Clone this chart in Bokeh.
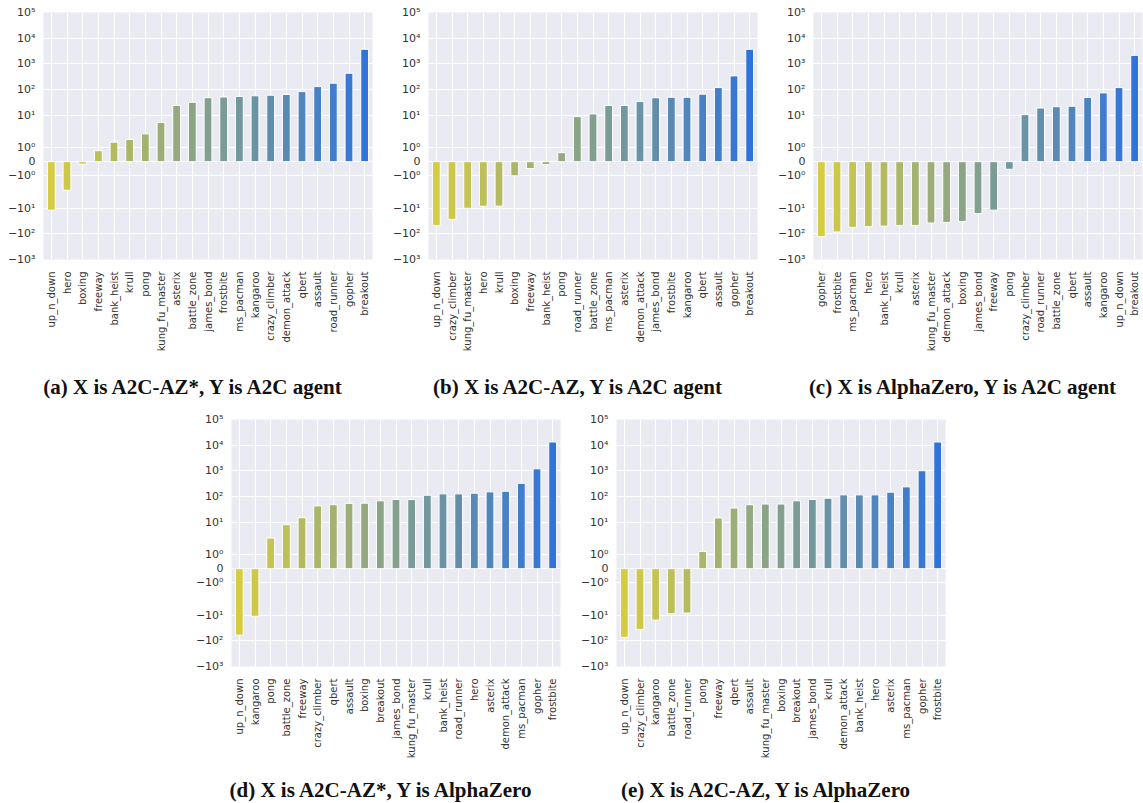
import numpy as np
from bokeh.plotting import figure
from bokeh.models import FactorRange, Range1d, FixedTicker, CustomJSTickFormatter, Div, Spacer
from bokeh.layouts import row, column
from bokeh.embed import file_html
from bokeh.resources import INLINE

# ---------------- data ----------------
cats_a = ["up_n_down", "hero", "boxing", "freeway", "bank_heist", "krull", "pong",
          "kung_fu_master", "asterix", "battle_zone", "james_bond", "frostbite", "ms_pacman",
          "kangaroo", "crazy_climber", "demon_attack", "qbert", "assault", "road_runner",
          "gopher", "breakout"]
vals_a = [-12.0, -2.0, -0.17, 0.77, 1.37, 1.56, 1.95, 5.2, 24, 32, 48, 51, 54, 57, 60, 64,
          83, 130, 176, 430, 3700]

cats_b = ["up_n_down", "crazy_climber", "kung_fu_master", "hero", "krull", "boxing", "freeway",
          "bank_heist", "pong", "road_runner", "battle_zone", "ms_pacman", "asterix",
          "demon_attack", "james_bond", "frostbite", "kangaroo", "qbert", "assault", "gopher",
          "breakout"]
vals_b = [-47, -27.5, -10.1, -8.4, -8.3, -0.99, -0.48, -0.2, 0.63, 8.8, 11.2, 24, 24, 34,
          48, 50, 50, 66, 119, 340, 3700]

cats_c = ["gopher", "frostbite", "ms_pacman", "hero", "bank_heist", "krull", "asterix",
          "kung_fu_master", "demon_attack", "boxing", "james_bond", "freeway", "pong",
          "crazy_climber", "road_runner", "battle_zone", "qbert", "assault", "kangaroo",
          "up_n_down", "breakout"]
vals_c = [-129, -85, -56, -53, -50, -47, -47, -38, -36, -33, -16.2, -12.0, -0.53, 10.5, 19,
          21.4, 22.5, 49, 74, 119, 2140]

cats_d = ["up_n_down", "kangaroo", "pong", "battle_zone", "freeway", "crazy_climber", "qbert",
          "assault", "boxing", "breakout", "james_bond", "kung_fu_master", "krull",
          "bank_heist", "road_runner", "hero", "asterix", "demon_attack", "ms_pacman",
          "gopher", "frostbite"]
vals_d = [-60, -11, 2.4, 8.0, 15, 43, 48, 54, 55, 68, 77, 76, 112, 127, 127, 135, 152, 161,
          327, 1200, 13300]

cats_e = ["up_n_down", "crazy_climber", "kangaroo", "battle_zone", "road_runner", "pong",
          "freeway", "qbert", "assault", "kung_fu_master", "boxing", "breakout", "james_bond",
          "krull", "demon_attack", "bank_heist", "hero", "asterix", "ms_pacman", "gopher",
          "frostbite"]
vals_e = [-73, -36, -15.7, -8.7, -8.3, 1.21, 14.6, 35.5, 48, 51, 51, 68, 77, 86, 116, 116,
          116, 148, 237, 1010, 13300]

captions = ["(a) X is A2C-AZ*, Y is A2C agent",
            "(b) X is A2C-AZ, Y is A2C agent",
            "(c) X is AlphaZero, Y is A2C agent",
            "(d) X is A2C-AZ*, Y is AlphaZero",
            "(e) X is A2C-AZ, Y is AlphaZero"]

tick_values = [-1e3, -1e2, -1e1, -1, 0, 1, 1e1, 1e2, 1e3, 1e4, 1e5]
tick_labels = ["\u221210\u00b3", "\u221210\u00b2", "\u221210\u00b9", "\u221210\u2070", "0",
               "10\u2070", "10\u00b9", "10\u00b2", "10\u00b3", "10\u2074", "10\u2075"]

# ---------------- symlog scale (linthresh=2, linscale=1, base 10) ----------------
LINTHRESH = 2.0
C = 1.0 / (1.0 - 1.0 / 10.0)


def symlog(v):
    v = np.asarray(v, dtype=float)
    a = np.abs(v)
    lin = v * C
    log = np.sign(v) * LINTHRESH * (C + np.log10(np.maximum(a, 1e-12) / LINTHRESH))
    return np.where(a <= LINTHRESH, lin, log)


START = np.array([214, 204, 66])
END = np.array([48, 116, 218])


def palette(n):
    cols = []
    for i in range(n):
        t = i / (n - 1)
        r, g, b = (START + (END - START) * t).round().astype(int)
        cols.append("#%02x%02x%02x" % (r, g, b))
    return cols


FIG_W = 375


def make_panel(cats, vals, caption, cap_pad, cap_h):
    p = figure(x_range=FactorRange(*cats),
               y_range=Range1d(float(symlog(-1e3)), float(symlog(1e5))),
               width=FIG_W, height=355,
               min_border_left=43, min_border_right=3, min_border_top=12,
               min_border_bottom=96,
               output_backend="svg", toolbar_location=None)
    p.vbar(x=cats, top=symlog(vals).tolist(), bottom=0, width=0.5,
           fill_color=palette(len(cats)), line_color="white", line_width=1)
    p.background_fill_color = "#EAEAF2"
    p.border_fill_color = "white"
    p.outline_line_color = None

    ticks = symlog(tick_values).tolist()
    p.yaxis.ticker = FixedTicker(ticks=ticks)
    p.yaxis.formatter = CustomJSTickFormatter(args=dict(labels=tick_labels),
                                              code="return labels[index];")
    p.ygrid.ticker = FixedTicker(ticks=ticks)

    for ax in (p.xaxis, p.yaxis):
        ax.axis_line_color = None
        ax.major_tick_line_color = None
        ax.minor_tick_line_color = None
        ax.major_tick_out = 0
        ax.major_tick_in = 0
        ax.major_label_text_font = "DejaVu Sans"
        ax.major_label_text_color = "#333333"
    p.yaxis.major_label_text_font_size = "11px"
    p.yaxis.major_label_standoff = 8
    p.xaxis.major_label_text_font_size = "10px"
    p.xaxis.major_label_orientation = np.pi / 2
    p.xaxis.major_label_standoff = 12

    for g in (p.xgrid, p.ygrid):
        g.grid_line_color = "white"
        g.grid_line_width = 1

    div = Div(text=('<div style="padding-top:%dpx;text-align:center;width:%dpx;'
                    'font-family:\'Liberation Serif\';font-weight:bold;font-size:21px;'
                    'color:#111;white-space:nowrap;">%s</div>') % (cap_pad, FIG_W, caption),
              width=FIG_W, height=cap_h)
    return column(p, div)


pa = make_panel(cats_a, vals_a, captions[0], 12, 42)
pb = make_panel(cats_b, vals_b, captions[1], 12, 42)
pc = make_panel(cats_c, vals_c, captions[2], 12, 42)
pd = make_panel(cats_d, vals_d, captions[3], 8, 34)
pe = make_panel(cats_e, vals_e, captions[4], 8, 34)

layout = column(row(pa, pb, pc),
                row(Spacer(width=188, height=10), pd, pe))

open("out.html", "w").write(file_html(layout, INLINE))
